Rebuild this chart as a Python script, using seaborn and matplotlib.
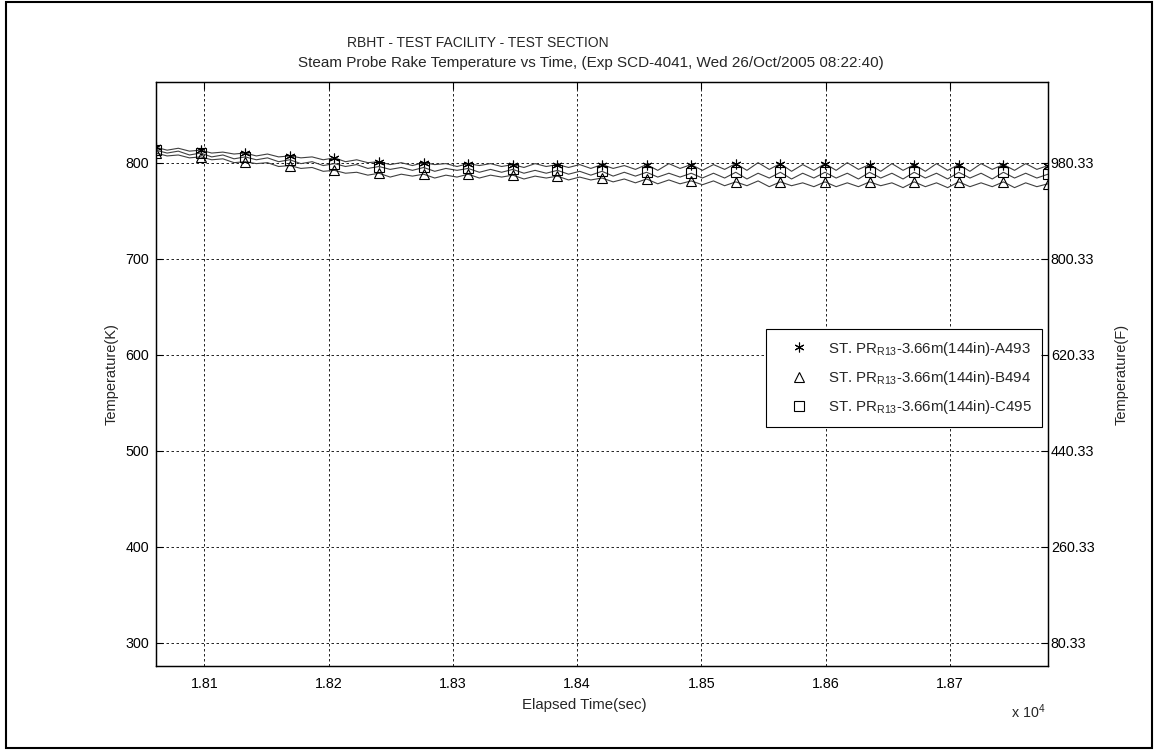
import numpy as np
import matplotlib
matplotlib.use("Agg")
import matplotlib.pyplot as plt
import seaborn as sns
from matplotlib.lines import Line2D
from matplotlib.patches import Rectangle

# zaman ekseni (s) - 81 ornek
time_s = np.linspace(18061, 18779, 81)

# sicaklik (K)
temp_a493 = [816, 813, 815, 812, 813, 810, 811, 809, 810, 807,
             809, 806, 807, 805, 806, 803, 805, 801, 803, 800,
             801, 798, 800, 797, 800, 798, 799, 796, 799, 797,
             799, 796, 798, 795, 799, 796, 798, 795, 798, 794,
             798, 794, 797, 793, 798, 792, 799, 794, 798, 792,
             798, 793, 799, 792, 800, 793, 799, 791, 798, 792,
             799, 792, 800, 793, 798, 791, 799, 792, 798, 791,
             799, 792, 798, 791, 799, 793, 798, 792, 799, 793, 797]
temp_b494 = [810, 807, 808, 805, 806, 803, 804, 800, 801, 799,
             800, 796, 797, 794, 795, 791, 792, 789, 790, 787,
             789, 785, 788, 786, 788, 784, 787, 785, 788, 784,
             787, 785, 787, 783, 786, 784, 786, 782, 785, 782,
             784, 780, 783, 779, 783, 778, 782, 778, 781, 777,
             781, 776, 780, 776, 781, 775, 780, 776, 779, 775,
             780, 775, 779, 775, 780, 776, 779, 774, 780, 775,
             779, 774, 780, 775, 779, 775, 780, 774, 779, 775, 778]
temp_c495 = [813, 810, 812, 808, 810, 806, 808, 804, 806, 803,
             805, 801, 803, 799, 801, 797, 799, 796, 798, 794,
             796, 793, 795, 792, 795, 791, 794, 792, 794, 790,
             793, 790, 793, 789, 792, 789, 792, 788, 791, 787,
             791, 786, 790, 786, 790, 785, 789, 785, 789, 784,
             789, 784, 790, 783, 789, 784, 790, 783, 789, 784,
             790, 784, 789, 783, 790, 784, 789, 783, 790, 784,
             789, 783, 790, 784, 789, 783, 790, 784, 789, 784, 788]

series_labels = ["ST. PR$_{R13}$-3.66m(144in)-A493",
                 "ST. PR$_{R13}$-3.66m(144in)-B494",
                 "ST. PR$_{R13}$-3.66m(144in)-C495"]
series_markers = [(6, 2, 0), "^", "s"]

x_ticks = [18100, 18200, 18300, 18400, 18500, 18600, 18700]
x_tick_labels = ["1.81", "1.82", "1.83", "1.84", "1.85", "1.86", "1.87"]
k_ticks = [300, 400, 500, 600, 700, 800]

sns.set_style("white")
plt.rcParams["font.family"] = ["Liberation Sans", "DejaVu Sans"]
plt.rcParams["mathtext.default"] = "regular"
plt.rcParams["font.size"] = 10.3

fig = plt.figure(figsize=(11.58, 7.5), dpi=100)
ax = fig.add_axes([0.1347, 0.112, 0.7703, 0.7787])

for temps, mk in zip([temp_a493, temp_b494, temp_c495], series_markers):
    sns.lineplot(x=time_s, y=temps, ax=ax, color="0.25", linewidth=0.8,
                 marker=mk, markevery=4, markersize=7,
                 markerfacecolor="none", markeredgecolor="k",
                 markeredgewidth=0.8, errorbar=None, legend=False)

ax.set_xlim(18061, 18779)
ax.set_ylim(276, 884)
ax.set_xticks(x_ticks)
ax.set_xticklabels(x_tick_labels)
ax.set_yticks(k_ticks)
ax.grid(True, linestyle=(0, (3, 3)), color="k", linewidth=0.6)
ax.tick_params(axis="both", direction="in", length=5, width=0.8,
               top=True, right=False, colors="k")
ax.tick_params(axis="x", pad=8)
ax.tick_params(axis="y", pad=5)
for sp in ax.spines.values():
    sp.set_color("k")
    sp.set_linewidth(0.9)

ax.set_ylabel("Temperature(K)", fontsize=10.5)
ax.yaxis.set_label_coords(-0.042, 0.5)
ax.set_xlabel("Elapsed Time(sec)", fontsize=10.8)
ax.xaxis.set_label_coords(0.48, -0.055)

# sag eksen: Fahrenheit
ax2 = ax.twinx()
lo, hi = ax.get_ylim()
ax2.set_ylim(lo * 1.8 - 459.67, hi * 1.8 - 459.67)
f_ticks = [k * 1.8 - 459.67 for k in k_ticks]
ax2.set_yticks(f_ticks)
ax2.set_yticklabels([f"{f:.2f}" for f in f_ticks])
ax2.tick_params(axis="y", direction="in", length=5, width=0.8, pad=2, colors="k")
ax2.set_ylabel("Temperature(F)", fontsize=10.5)
ax2.yaxis.set_label_coords(1.075, 0.5)
for sp in ax2.spines.values():
    sp.set_color("k")
    sp.set_linewidth(0.9)

handles = [Line2D([], [], linestyle="none", marker=mk, markersize=7,
                  markerfacecolor="none", markeredgecolor="k",
                  markeredgewidth=0.8) for mk in series_markers]
leg = ax.legend(handles, series_labels, loc="upper left",
                bbox_to_anchor=(0.684, 0.577), borderaxespad=0,
                fancybox=False, framealpha=1, edgecolor="k",
                borderpad=0.7, handlelength=3.0, handletextpad=0.4,
                labelspacing=0.75, fontsize=10.8)
leg.get_frame().set_linewidth(0.8)

fig.text(478 / 1158, 1 - 43 / 750, "RBHT - TEST FACILITY - TEST SECTION",
         ha="center", va="center", fontsize=10)
fig.text(591 / 1158, 1 - 63 / 750,
         "Steam Probe Rake Temperature vs Time, (Exp SCD-4041, Wed 26/Oct/2005 08:22:40)",
         ha="center", va="center", fontsize=11)
fig.text(1045 / 1158, 1 - 712 / 750, "x 10$^{4}$", ha="right", va="center")

fig.patches.append(Rectangle((0.005, 0.003), 0.99, 0.994, transform=fig.transFigure,
                             fill=False, edgecolor="k", linewidth=1.5))

fig.savefig("out.png", dpi=100)
